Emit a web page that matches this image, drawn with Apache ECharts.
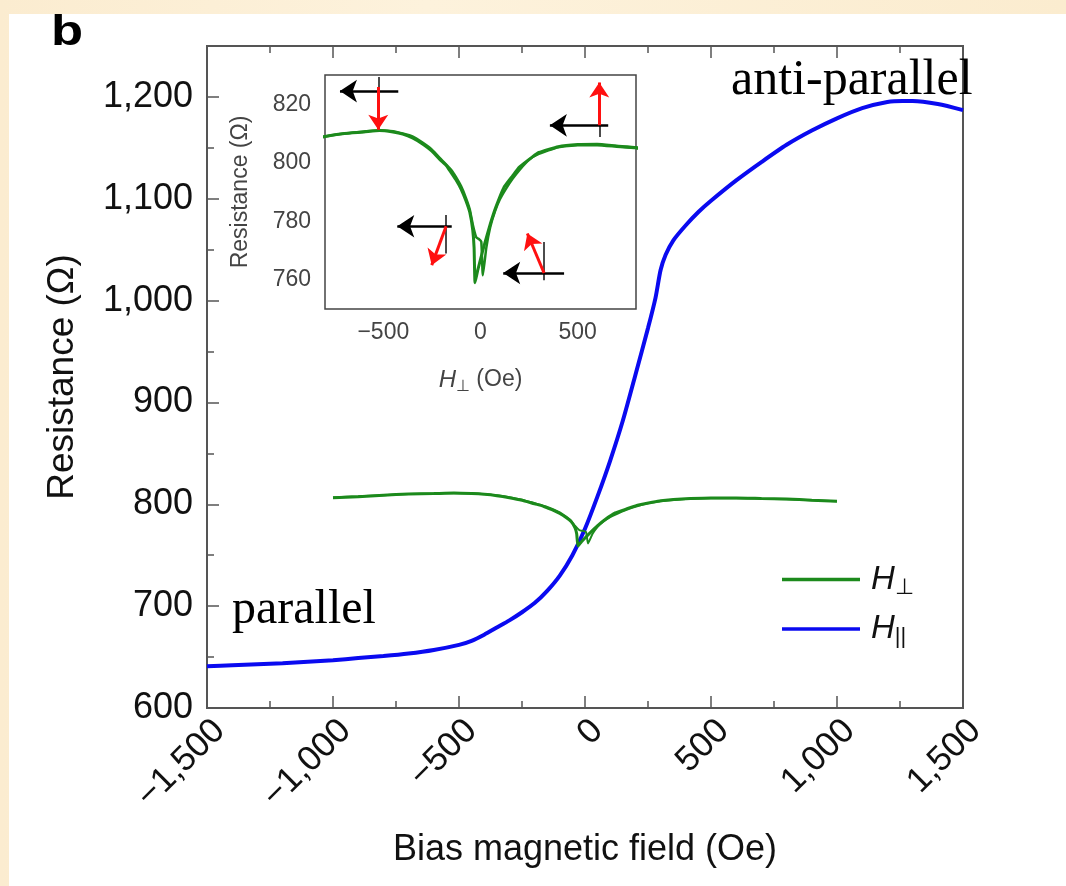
<!DOCTYPE html>
<html>
<head>
<meta charset="utf-8">
<script src="https://cdn.jsdelivr.net/npm/echarts@6/dist/echarts.min.js"></script>
<style>
  html, body { margin: 0; padding: 0; }
  body {
    width: 1066px; height: 886px; position: relative; overflow: hidden;
    background: linear-gradient(90deg, #fbecd0 0%, #fdf2dc 40%, #fbeccf 100%);
  }
  #sheet { position: absolute; left: 9px; top: 14px; right: 0; bottom: 0; background: #ffffff; }
  #chart { position: absolute; left: 0; top: 0; width: 1066px; height: 886px; }
</style>
</head>
<body>
<div id="sheet"></div>
<div id="chart"></div>
<script>
// Magnetoresistance of the junction vs. bias field, in-plane (H||) and out-of-plane (H⊥)

// H|| sweep (Oe, Ω)
const blueField = [-1500, -1400, -1300, -1200, -1100, -1000, -900, -800, -700, -600, -500, -450, -400, -350, -300,
  -250, -200, -150, -100, -50, 0, 50, 100, 150, 200, 250, 280, 300, 320, 350, 400, 450, 500, 600, 700, 800, 900,
  1000, 1100, 1200, 1260, 1300, 1400, 1500];
const blueR = [641, 642, 643, 644, 645.5, 647, 649, 651, 653.5, 657, 662, 666, 672, 679, 686,
  694, 703, 715, 730, 750, 776, 808, 843, 882, 927, 973, 1003, 1030, 1045, 1059, 1074, 1087, 1098, 1118, 1136, 1153, 1167,
  1179, 1189, 1195, 1196, 1196, 1193, 1187];

// H⊥ sweep, increasing field
const perpUpField = [-1000, -900, -800, -700, -600, -520, -450, -400, -350, -300, -250, -200, -175, -150, -125, -100,
  -75, -55, -40, -33, -28, -15, 0, 20, 50, 80, 120, 165, 200, 267, 300, 400, 500, 600, 700, 800, 900, 1000];
const perpUpR = [806.5, 807.5, 809, 810, 810.5, 811, 810.5, 809.8, 808.5, 806.5, 804, 800.5, 799, 796.5, 794, 791,
  787, 783, 777, 771, 759, 763, 767, 772, 779, 785, 791.5, 795.5, 798.5, 802, 803.5, 805.5, 806.2, 806.3, 805.7, 805.2, 804, 803];

// H⊥ sweep, decreasing field
const perpDownField = [1000, 900, 800, 700, 600, 500, 400, 300, 250, 200, 165, 130, 100, 75, 50, 30, 12, 4, -10, -22,
  -40, -55, -75, -100, -125, -150, -200, -250, -300, -350, -400, -450, -520, -600, -700, -800, -900, -1000];
const perpDownR = [803, 804, 805, 805.5, 806, 806, 805.3, 803, 801, 797.5, 794.5, 791, 787.5, 783.5, 778, 771, 761.5, 773, 774, 774.5,
  779, 784, 788, 792, 795, 797.5, 801, 804.5, 807, 809, 810, 810.8, 811, 810.7, 810, 809, 807.8, 806.8];

// Tick positions
const mainYTicks = [600, 700, 800, 900, 1000, 1100, 1200];
const mainYMinor = [650, 750, 850, 950, 1050, 1150];
const insetXTicks = [-750, -500, -250, 0, 250, 500, 750];
const insetXLabels = [-500, 0, 500];
const insetYTicks = [760, 770, 780, 790, 800, 810, 820];
const insetYLabels = [760, 780, 800, 820];

// Magnetisation pictograms inside the inset (field, resistance coordinates)
const pinnedArrows = [
  [[-423, 824.5], [-723, 824.5]],
  [[657, 812.8], [357, 812.8]],
  [[-148, 778.3], [-428, 778.3]],
  [[430, 762.3], [117, 762.3]]
];
const freeArrows = [
  [[-526, 825.9], [-526, 811.3]],
  [[611, 812.8], [611, 827.4]],
  [[-177, 778.3], [-251, 765]],
  [[327, 762.3], [241, 775.8]]
];
const referenceBars = [
  [[-526, 829.3], [-526, 822.5]],
  [[611, 817.4], [611, 808.8]],
  [[-177, 782.1], [-177, 769]],
  [[327, 772.9], [327, 759.8]]
];

const zip = (xs, ys) => xs.map((x, i) => [x, ys[i]]);
const fmtThousands = v => (v < 0 ? '\u2212' : '') + Math.abs(v).toLocaleString('en-US');

const SANS = 'Liberation Sans';
const FRAME = '#555555';
const GREEN = '#1c8a1c';
const BLUE = '#0a0af0';

const chart = echarts.init(document.getElementById('chart'), null, { renderer: 'canvas' });

const tickOnly = (extra) => Object.assign({
  axisLine: { show: false, onZero: false },
  splitLine: { show: false },
  axisLabel: { show: false }
}, extra);

const option = {
  animation: false,
  backgroundColor: 'transparent',
  textStyle: { fontFamily: SANS },
  grid: [
    { left: 207, top: 46, width: 756, height: 662, show: true, borderColor: FRAME, borderWidth: 2, backgroundColor: 'transparent' },
    { left: 325, top: 75, width: 311, height: 234, show: true, borderColor: '#444', borderWidth: 1.5, backgroundColor: '#fff', z: 3 }
  ],
  xAxis: [
    {
      gridIndex: 0, type: 'value', position: 'bottom', min: -1500, max: 1500, interval: 500,
      axisLine: { show: false, onZero: false }, splitLine: { show: false },
      axisTick: { inside: true, length: 12, lineStyle: { color: FRAME, width: 1.5 } },
      minorTick: { show: true, splitNumber: 2, length: 7, lineStyle: { color: FRAME, width: 1.5 } },
      minorSplitLine: { show: false },
      axisLabel: { rotate: 45, margin: 5, verticalAlign: 'top', fontSize: 35, color: '#111', fontFamily: SANS, formatter: fmtThousands },
      name: 'Bias magnetic field (Oe)', nameLocation: 'middle', nameGap: 124,
      nameTextStyle: { fontSize: 36, color: '#111', fontFamily: SANS }
    },
    tickOnly({
      gridIndex: 0, type: 'value', position: 'top', min: -1500, max: 1500, interval: 500,
      axisTick: { inside: true, length: 12, lineStyle: { color: FRAME, width: 1.5 } },
      minorTick: { show: true, splitNumber: 2, length: 7, lineStyle: { color: FRAME, width: 1.5 } }
    }),
    {
      gridIndex: 1, type: 'value', position: 'bottom', min: -800, max: 800,
      axisLine: { show: false, onZero: false }, splitLine: { show: false },
      axisTick: { inside: true, length: 7, customValues: insetXTicks, lineStyle: { color: '#444', width: 1.2 } },
      axisLabel: { customValues: insetXLabels, margin: 12, fontSize: 23, color: '#444', fontFamily: SANS, formatter: fmtThousands },
      name: '{h|H}{s|\u22a5}{n| (Oe)}', nameLocation: 'middle', nameGap: 56,
      nameTextStyle: {
        color: '#444',
        rich: {
          h: { fontSize: 24, fontStyle: 'italic', color: '#444', fontFamily: SANS, lineHeight: 30 },
          s: { fontSize: 16, color: '#444', fontFamily: SANS, lineHeight: 12, verticalAlign: 'bottom' },
          n: { fontSize: 23, color: '#444', fontFamily: SANS, lineHeight: 30 }
        }
      }
    },
    tickOnly({
      gridIndex: 1, type: 'value', position: 'top', min: -800, max: 800,
      axisTick: { inside: true, length: 7, customValues: insetXTicks, lineStyle: { color: '#444', width: 1.2 } }
    })
  ],
  yAxis: [
    {
      gridIndex: 0, type: 'value', position: 'left', min: 600, max: 1250,
      axisLine: { show: false, onZero: false }, splitLine: { show: false },
      axisTick: { inside: true, length: 12, customValues: mainYTicks, lineStyle: { color: FRAME, width: 1.5 } },
      axisLabel: { customValues: mainYTicks, margin: 14, fontSize: 36, color: '#111', fontFamily: SANS, formatter: fmtThousands },
      name: 'Resistance (\u03a9)', nameLocation: 'middle', nameGap: 126,
      nameTextStyle: { fontSize: 37, color: '#111', fontFamily: SANS }
    },
    tickOnly({
      gridIndex: 0, type: 'value', position: 'left', min: 600, max: 1250,
      axisTick: { inside: true, length: 7, customValues: mainYMinor, lineStyle: { color: FRAME, width: 1.5 } }
    }),
    {
      gridIndex: 1, type: 'value', position: 'left', min: 750, max: 830,
      axisLine: { show: false, onZero: false }, splitLine: { show: false },
      axisTick: { inside: true, length: 7, customValues: insetYTicks, lineStyle: { color: '#444', width: 1.2 } },
      axisLabel: { customValues: insetYLabels, margin: 14, fontSize: 23, color: '#444', fontFamily: SANS },
      name: 'Resistance (\u03a9)', nameLocation: 'middle', nameGap: 73,
      nameTextStyle: { fontSize: 23, color: '#444', fontFamily: SANS }
    },
    tickOnly({
      gridIndex: 1, type: 'value', position: 'right', min: 750, max: 830,
      axisTick: { inside: true, length: 7, customValues: insetYTicks, lineStyle: { color: '#444', width: 1.2 } }
    })
  ],
  legend: {
    left: 777, top: 558, orient: 'vertical', icon: 'rect', itemWidth: 78, itemHeight: 3.5, itemGap: 14,
    data: ['H\u22a5', 'H||'],
    selectedMode: false,
    formatter: name => name === 'H\u22a5' ? '{h|H}{s|\u22a5}' : '{h|H}{s|||}',
    textStyle: {
      color: '#111',
      rich: {
        h: { fontSize: 33, fontStyle: 'italic', color: '#111', fontFamily: SANS, lineHeight: 38, padding: [0, 0, 0, 6] },
        s: { fontSize: 22, color: '#111', fontFamily: SANS, lineHeight: 16, verticalAlign: 'bottom' }
      }
    }
  },
  graphic: [
    { type: 'text', left: 51, top: 12, scaleX: 1.25, style: { text: 'b', font: 'bold 42px "Liberation Sans"', fill: '#000' } },
    { type: 'text', x: 232, y: 610, style: { text: 'parallel', font: '48px "Liberation Serif"', fill: '#000', verticalAlign: 'middle' } },
    { type: 'text', x: 731, y: 81, style: { text: 'anti-parallel', font: '50px "Liberation Serif"', fill: '#000', verticalAlign: 'middle' } }
  ],
  series: [
    {
      name: 'H||', type: 'line', xAxisIndex: 0, yAxisIndex: 0, data: zip(blueField, blueR),
      symbol: 'none', smooth: 0.25, lineStyle: { color: BLUE, width: 4 }, itemStyle: { color: BLUE }, z: 2
    },
    {
      name: 'H\u22a5', type: 'line', xAxisIndex: 0, yAxisIndex: 0, data: zip(perpUpField, perpUpR),
      symbol: 'none', smooth: 0.15, lineStyle: { color: GREEN, width: 3 }, itemStyle: { color: GREEN }, z: 3
    },
    {
      name: 'H\u22a5', type: 'line', xAxisIndex: 0, yAxisIndex: 0, data: zip(perpDownField, perpDownR),
      symbol: 'none', smooth: 0.15, lineStyle: { color: GREEN, width: 2 }, itemStyle: { color: GREEN }, z: 3
    },
    {
      name: 'H\u22a5', type: 'line', xAxisIndex: 2, yAxisIndex: 2, data: zip(perpUpField, perpUpR),
      symbol: 'none', smooth: 0.15, lineStyle: { color: GREEN, width: 3 }, itemStyle: { color: GREEN }, z: 5
    },
    {
      name: 'H\u22a5', type: 'line', xAxisIndex: 2, yAxisIndex: 2, data: zip(perpDownField, perpDownR),
      symbol: 'none', smooth: 0.15, lineStyle: { color: GREEN, width: 2.5 }, itemStyle: { color: GREEN }, z: 5
    },
    {
      type: 'lines', coordinateSystem: 'cartesian2d', xAxisIndex: 2, yAxisIndex: 2, silent: true, z: 6,
      symbol: 'none', lineStyle: { color: '#111', width: 1.5, opacity: 1 },
      data: referenceBars.map(c => ({ coords: c }))
    },
    {
      type: 'lines', coordinateSystem: 'cartesian2d', xAxisIndex: 2, yAxisIndex: 2, silent: true, z: 7,
      symbol: ['none', 'arrow'], symbolSize: 17, lineStyle: { color: '#000', width: 2.5, opacity: 1 },
      data: pinnedArrows.map(c => ({ coords: c }))
    },
    {
      type: 'lines', coordinateSystem: 'cartesian2d', xAxisIndex: 2, yAxisIndex: 2, silent: true, z: 8,
      symbol: ['none', 'arrow'], symbolSize: 15, lineStyle: { color: '#ff1010', width: 3, opacity: 1 },
      data: freeArrows.map(c => ({ coords: c }))
    }
  ]
};

chart.setOption(option);
</script>
</body>
</html>
